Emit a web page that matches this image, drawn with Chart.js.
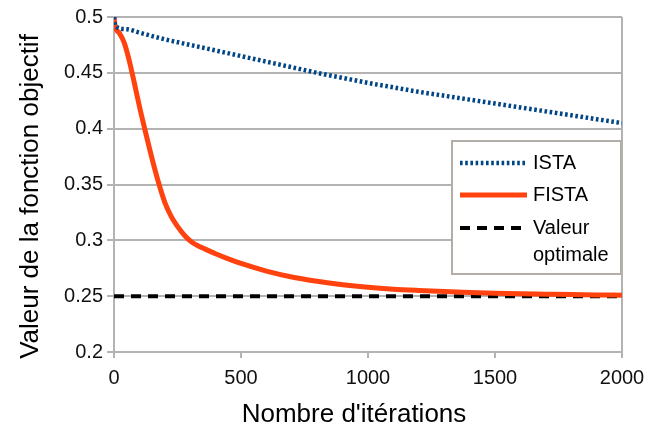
<!DOCTYPE html>
<html>
<head>
<meta charset="utf-8">
<script src="https://cdn.jsdelivr.net/npm/chart.js@4.4.1/dist/chart.umd.min.js"></script>
<style>
  html, body { margin: 0; padding: 0; background: #fff; }
  #wrap { width: 648px; height: 434px; }
</style>
</head>
<body>
<div id="wrap"><canvas id="chart" width="648" height="434"></canvas></div>
<script>
// valeurs
const xTicks = [0, 500, 1000, 1500, 2000];
const yTicks = [0.2, 0.25, 0.3, 0.35, 0.4, 0.45, 0.5];

const istaIter = [0, 5, 50, 100, 200, 300, 400, 500, 600, 700, 800, 900, 1000, 1100, 1200, 1300, 1400, 1500, 1600, 1700, 1800, 1900, 2000];
const istaValues = [0.5, 0.492, 0.489, 0.486, 0.480, 0.475, 0.470, 0.465, 0.460, 0.455, 0.450, 0.4455, 0.441, 0.437, 0.433, 0.4295, 0.426, 0.4225, 0.419, 0.4155, 0.412, 0.4085, 0.405];

const fistaIter = [0, 5, 20, 40, 60, 80, 100, 125, 150, 175, 200, 225, 250, 270, 290, 310, 330, 350, 400, 450, 500, 600, 700, 800, 900, 1000, 1100, 1200, 1300, 1400, 1500, 1600, 1700, 1800, 1900, 2000];
const fistaValues = [0.5, 0.491, 0.486, 0.477, 0.461, 0.441, 0.420, 0.396, 0.373, 0.352, 0.334, 0.3215, 0.3125, 0.3065, 0.3015, 0.2978, 0.2952, 0.2931, 0.2880, 0.2834, 0.2793, 0.2725, 0.2672, 0.2633, 0.2603, 0.2580, 0.2563, 0.2551, 0.2541, 0.2533, 0.2527, 0.2522, 0.2518, 0.2514, 0.2511, 0.2509];

const optIter = [0, 2000];
const optValues = [0.25, 0.25];

const seriesNames = ['ISTA', 'FISTA', 'Valeur optimale'];
const xTitle = "Nombre d'itérations";
const yTitle = 'Valeur de la fonction objectif';

const GRID = '#b3b3b3';
const FONT = '"Liberation Sans", Arial, sans-serif';

function pts(xs, ys) {
  return xs.map((x, i) => ({ x: x, y: ys[i] }));
}

// titres des axes
const titlesPlugin = {
  id: 'titles',
  afterDraw(chart) {
    const ctx = chart.ctx;
    const a = chart.chartArea;
    ctx.save();
    ctx.fillStyle = '#000';
    ctx.font = '26px ' + FONT;
    ctx.textAlign = 'center';
    ctx.textBaseline = 'middle';
    ctx.fillText(xTitle, (a.left + a.right) / 2 - 14, 415);
    ctx.translate(31, (a.top + a.bottom) / 2 + 12);
    ctx.rotate(-Math.PI / 2);
    ctx.fillText(yTitle, 0, 0);
    ctx.restore();
  }
};

// légende dans un cadre, à droite
const legendPlugin = {
  id: 'boxLegend',
  afterDatasetsDraw(chart) {
    const ctx = chart.ctx;
    const a = chart.chartArea;
    const bx = 452, by = 141, bw = a.right - 1 - bx, bh = 133;
    ctx.save();
    ctx.fillStyle = '#fff';
    ctx.fillRect(bx, by, bw, bh);
    ctx.strokeStyle = '#b2ada6';
    ctx.lineWidth = 2;
    ctx.strokeRect(bx, by, bw, bh);

    ctx.font = '20px ' + FONT;
    ctx.textAlign = 'left';
    ctx.textBaseline = 'middle';
    const rows = [163, 195, 228];
    chart.data.datasets.forEach((ds, i) => {
      const y = rows[i];
      ctx.beginPath();
      ctx.strokeStyle = ds.borderColor;
      ctx.lineWidth = ds.borderWidth;
      ctx.setLineDash(ds.borderDash || []);
      ctx.moveTo(460, y);
      ctx.lineTo(527, y);
      ctx.stroke();
      ctx.setLineDash([]);

      // retour à la ligne si trop long
      const words = ds.label.split(' ');
      const lines = [];
      let cur = '';
      words.forEach(w => {
        const t = cur ? cur + ' ' + w : w;
        if (cur && ctx.measureText(t).width > bx + bw - 540) {
          lines.push(cur);
          cur = w;
        } else {
          cur = t;
        }
      });
      lines.push(cur);
      ctx.fillStyle = '#000';
      lines.forEach((l, k) => ctx.fillText(l, 533, y + k * 27));
    });
    ctx.restore();
  }
};

const chart = new Chart(document.getElementById('chart'), {
  type: 'line',
  data: {
    datasets: [
      {
        label: seriesNames[0],
        data: pts(istaIter, istaValues),
        borderColor: '#004586',
        borderWidth: 4.5,
        borderDash: [2.6, 2.6],
        pointRadius: 0,
        cubicInterpolationMode: 'monotone',
        fill: false
      },
      {
        label: seriesNames[1],
        data: pts(fistaIter, fistaValues),
        borderColor: '#ff420e',
        borderWidth: 5,
        pointRadius: 0,
        cubicInterpolationMode: 'monotone',
        fill: false
      },
      {
        label: seriesNames[2],
        data: pts(optIter, optValues),
        borderColor: '#000000',
        borderWidth: 4,
        borderDash: [10, 7],
        pointRadius: 0,
        fill: false
      }
    ]
  },
  options: {
    responsive: false,
    animation: false,
    devicePixelRatio: 1,
    layout: { padding: { left: 0, right: 26, top: 17, bottom: 0 } },
    plugins: {
      legend: { display: false },
      tooltip: { enabled: false }
    },
    scales: {
      x: {
        type: 'linear',
        min: 0,
        max: 2000,
        afterBuildTicks: s => { s.ticks = xTicks.map(v => ({ value: v })); },
        afterFit: s => { s.height = 82; s.paddingLeft = 0; s.paddingRight = 0; },
        ticks: {
          color: '#111',
          font: { family: FONT, size: 20 },
          padding: 8,
          maxRotation: 0,
          autoSkip: false,
          callback: v => String(v)
        },
        grid: {
          color: c => (c.tick && c.tick.value === 2000) ? GRID : 'rgba(0,0,0,0)',
          lineWidth: 2,
          tickColor: GRID,
          tickLength: 6
        },
        border: { color: GRID, width: 2 }
      },
      y: {
        min: 0.2,
        max: 0.5,
        afterBuildTicks: s => { s.ticks = yTicks.map(v => ({ value: v })); },
        afterFit: s => { s.width = 114; s.paddingTop = 0; s.paddingBottom = 0; },
        ticks: {
          color: '#111',
          font: { family: FONT, size: 20 },
          padding: 4,
          callback: v => String(v)
        },
        grid: {
          color: GRID,
          lineWidth: 2,
          tickColor: GRID,
          tickLength: 7
        },
        border: { color: GRID, width: 2 }
      }
    }
  },
  plugins: [legendPlugin, titlesPlugin]
});
</script>
</body>
</html>
